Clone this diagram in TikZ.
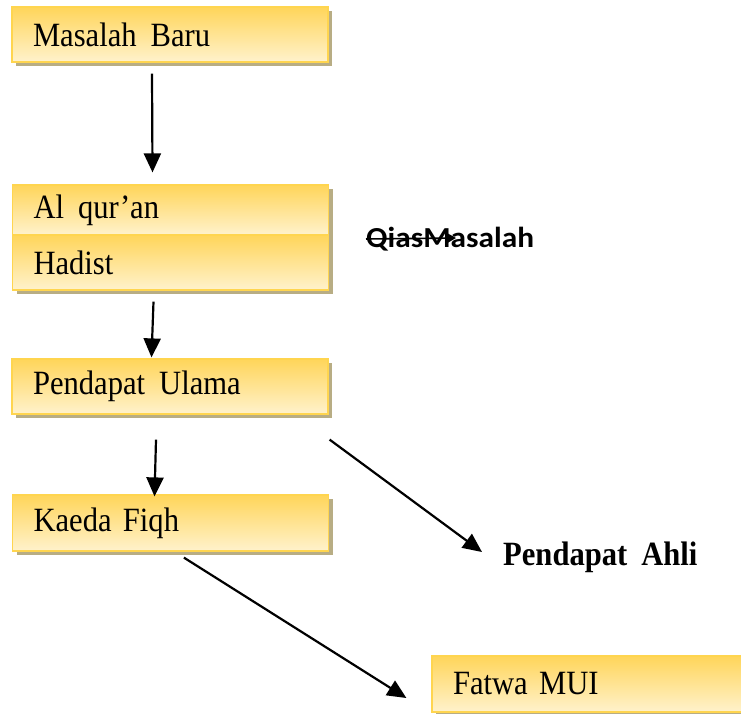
\documentclass[tikz,border=0pt]{standalone}
\usepackage{fontspec}
\setmainfont{Liberation Serif}[FakeStretch=0.9]
\newfontfamily\qiasfont{Carlito}[FakeStretch=1.08]
\usetikzlibrary{arrows.meta,shadows}
\definecolor{BGold}{HTML}{FFD55A}
\definecolor{BCream}{HTML}{FFF2CC}
\definecolor{BEdge}{HTML}{FFD54F}
\definecolor{BShadow}{HTML}{B8AD84}
\newcommand{\wgap}{\hspace{14pt}}

\begin{document}
\begin{tikzpicture}[
  x=1pt,y=-1pt,
  every node/.style={font=\fontsize{34}{40}\selectfont},
  box/.style={draw=BEdge,line width=1.2pt,top color=BGold,bottom color=BCream,
    inner xsep=21pt,text width=274pt,align=left,
    drop shadow={shadow xshift=4pt,shadow yshift=-4pt,fill=BShadow,opacity=1}},
  arr/.style={-{Triangle[length=19pt,width=17pt]},line width=2.2pt,black},
  thinarr/.style={-{Triangle[length=10pt,width=11pt]},line width=1.6pt,black}
]
  \useasboundingbox (0,0) rectangle (741,713);
  \node[box,minimum height=55pt] (masalah) at (170,34.5) {Masalah\wgap Baru};
  \node[box,minimum height=50pt] (alquran) at (170.5,210) {Al\wgap qur’an};
  \node[box,minimum height=55pt] (hadist) at (170.5,262.5) {Hadist};
  \node[box,minimum height=55pt] (ulama) at (170,386.5) {Pendapat\wgap Ulama};
  \node[box,minimum height=56pt] (kaeda) at (170.5,523) {Kaeda Fiqh};
  \node[box,minimum height=56pt] (fatwa) at (590,684) {Fatwa MUI};
  \node[font=\fontsize{34}{40}\selectfont\bfseries,anchor=west,inner sep=0pt]
    (ahli) at (503,557) {Pendapat\wgap Ahli};
  \node[font=\qiasfont\fontsize{29}{33}\selectfont\bfseries,anchor=west,inner sep=0pt]
    (qias) at (366,239) {QiasMasalah};
  \coordinate (qiastip) at (456,238);

  \draw[arr] ([xshift=-18pt,yshift=-11pt]masalah.south) -- ([xshift=-18pt,yshift=12pt]alquran.north);
  \draw[arr] ([xshift=-17pt,yshift=-11pt]hadist.south) -- ([xshift=-18.5pt,yshift=1pt]ulama.north);
  \draw[arr] ([xshift=-14pt,yshift=-25pt]ulama.south) -- ([xshift=-16pt,yshift=-2pt]kaeda.north);
  \draw[arr] ([xshift=1pt,yshift=-25pt]ulama.south east) -- ([xshift=-21pt,yshift=5pt]ahli.west);
  \draw[arr] ([xshift=172pt,yshift=-6pt]kaeda.south west) -- ([xshift=-25pt,yshift=-14pt]fatwa.west);
  \draw[thinarr] (qias.west) -- (qiastip);
\end{tikzpicture}
\end{document}
